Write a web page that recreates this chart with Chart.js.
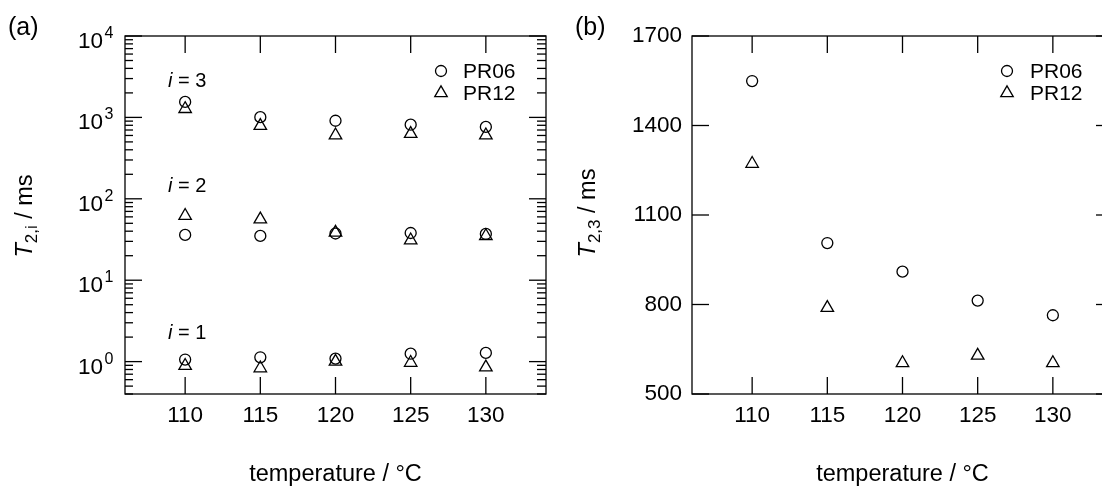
<!DOCTYPE html>
<html>
<head>
<meta charset="utf-8">
<script src="https://cdn.jsdelivr.net/npm/chart.js@4.4.1/dist/chart.umd.min.js"></script>
<style>
  html, body { margin: 0; padding: 0; background: #fff; overflow: hidden; }
  body { width: 1102px; height: 486px; position: relative; }
  canvas { position: absolute; top: 0; }
  #chartA { left: 0; }
  #chartB { left: 560px; }
</style>
</head>
<body>
<canvas id="chartA" width="560" height="486"></canvas>
<canvas id="chartB" width="570" height="486"></canvas>
<script>
// temperatures (°C)
const temps = [110, 115, 120, 125, 130];
const tempTicks = [110, 115, 120, 125, 130];

// T2,i in ms
const pr06_i1 = [1.06, 1.13, 1.09, 1.25, 1.28];
const pr12_i1 = [0.89, 0.83, 1.0, 0.97, 0.85];
const pr06_i2 = [36, 35, 37.5, 38, 37];
const pr12_i2 = [62, 56, 38.5, 31, 35];
const pr06_i3 = [1549, 1006, 910, 813, 764];
const pr12_i3 = [1272, 789, 604, 629, 604];

// axis ticks
const logMajor = [1, 10, 100, 1000, 10000];
const logExp = ['0', '1', '2', '3', '4'];
const linTicksB = [500, 800, 1100, 1400, 1700];

const FONT = "'Liberation Sans', Arial, Helvetica, sans-serif";
Chart.defaults.font.family = FONT;
Chart.defaults.color = '#000';

function pts(ys) {
    return temps.map((t, i) => ({ x: t, y: ys[i] }));
}

function circleSet(ys) {
    return { data: pts(ys), pointStyle: 'circle', pointRadius: 5.5, borderColor: '#000',
             backgroundColor: 'rgba(0,0,0,0)', borderWidth: 1.3, showLine: false };
}
function triSet(ys) {
    return { data: pts(ys), pointStyle: 'triangle', pointRadius: 7.2, borderColor: '#000',
             backgroundColor: 'rgba(0,0,0,0)', borderWidth: 1.3, showLine: false };
}

function line(ctx, x1, y1, x2, y2) {
    ctx.beginPath();
    ctx.moveTo(x1, y1);
    ctx.lineTo(x2, y2);
    ctx.stroke();
}

// frame + inward ticks on all four sides
function drawFrame(chart, yMajor, yMinor) {
    const { ctx, chartArea: a, scales: { x, y } } = chart;
    ctx.save();
    ctx.strokeStyle = '#000';
    ctx.lineWidth = 1.3;
    ctx.strokeRect(a.left, a.top, a.right - a.left, a.bottom - a.top);
    tempTicks.forEach(v => {
        const px = x.getPixelForValue(v);
        line(ctx, px, a.top, px, a.top + 17);
        line(ctx, px, a.bottom, px, a.bottom - 17);
    });
    yMajor.forEach(v => {
        const py = y.getPixelForValue(v);
        line(ctx, a.left, py, a.left + 17, py);
        line(ctx, a.right, py, a.right - 17, py);
    });
    yMinor.forEach(v => {
        const py = y.getPixelForValue(v);
        line(ctx, a.left, py, a.left + 8, py);
        line(ctx, a.right, py, a.right - 9, py);
    });
    ctx.restore();
}

// rotated "T_sub / ms" title
function drawYTitle(ctx, cx, cy, sub) {
    ctx.save();
    ctx.translate(cx, cy);
    ctx.rotate(-Math.PI / 2);
    ctx.fillStyle = '#000';
    ctx.textBaseline = 'alphabetic';
    ctx.textAlign = 'left';
    const fT = 'italic 23.5px ' + FONT, fS = '17px ' + FONT, fR = '23.5px ' + FONT;
    ctx.font = fT; const wT = ctx.measureText('T').width;
    ctx.font = fS; const wS = ctx.measureText(sub).width;
    ctx.font = fR; const wR = ctx.measureText(' / ms').width;
    let x0 = -(wT + wS + wR) / 2;
    ctx.font = fT; ctx.fillText('T', x0, 0); x0 += wT;
    ctx.font = fS; ctx.fillText(sub, x0, 5); x0 += wS;
    ctx.font = fR; ctx.fillText(' / ms', x0, 0);
    ctx.restore();
}

function drawLegend(ctx, mx, tx) {
    ctx.save();
    ctx.strokeStyle = '#000';
    ctx.lineWidth = 1.3;
    ctx.beginPath();
    ctx.arc(mx, 71, 5.5, 0, Math.PI * 2);
    ctx.stroke();
    const r = 7.2, cy = 93;
    ctx.beginPath();
    ctx.moveTo(mx, cy - r);
    ctx.lineTo(mx + r * Math.sin(2 * Math.PI / 3), cy + r / 2);
    ctx.lineTo(mx - r * Math.sin(2 * Math.PI / 3), cy + r / 2);
    ctx.closePath();
    ctx.stroke();
    ctx.fillStyle = '#000';
    ctx.font = '21px ' + FONT;
    ctx.textAlign = 'left';
    ctx.fillText('PR06', tx, 78);
    ctx.fillText('PR12', tx, 100);
    ctx.restore();
}

function panelLabel(ctx, text, x) {
    ctx.save();
    ctx.fillStyle = '#000';
    ctx.font = '25px ' + FONT;
    ctx.textAlign = 'left';
    ctx.fillText(text, x, 35);
    ctx.restore();
}

const minorA = [];
[0.1, 1, 10, 100, 1000].forEach(d => {
    for (let m = 2; m <= 9; m++) {
        const v = d * m;
        if (v >= 0.4) minorA.push(v);
    }
});

const decorA = {
    id: 'decorA',
    afterDraw(chart) {
        const { ctx, scales: { y } } = chart;
        drawFrame(chart, logMajor, minorA);
        // y tick labels 10^n
        ctx.save();
        ctx.fillStyle = '#000';
        logMajor.forEach((v, i) => {
            const py = y.getPixelForValue(v);
            ctx.font = '22.5px ' + FONT;
            ctx.textAlign = 'right';
            ctx.fillText('10', 103, py + 12);
            ctx.font = '16px ' + FONT;
            ctx.textAlign = 'left';
            ctx.fillText(logExp[i], 104.5, py + 2);
        });
        // i = n annotations
        [['3', 86.5], ['2', 191.5], ['1', 339]].forEach(([n, by]) => {
            ctx.font = 'italic 20px ' + FONT;
            ctx.fillText('i', 168, by);
            const wi = ctx.measureText('i').width;
            ctx.font = '20px ' + FONT;
            ctx.fillText(' = ' + n, 168 + wi, by);
        });
        ctx.restore();
        drawYTitle(ctx, 32, 216, '2,i');
        drawLegend(ctx, 441, 463);
        panelLabel(ctx, '(a)', 8);
    }
};

const decorB = {
    id: 'decorB',
    afterDraw(chart) {
        drawFrame(chart, linTicksB, []);
        drawYTitle(chart.ctx, 35, 213, '2,3');
        drawLegend(chart.ctx, 447, 470);
        panelLabel(chart.ctx, '(b)', 15);
    }
};

function xScale() {
    return {
        type: 'linear', min: 106, max: 134,
        afterBuildTicks: s => { s.ticks = tempTicks.map(v => ({ value: v })); },
        afterFit: s => { s.height = 92; },
        grid: { display: false, drawTicks: false },
        border: { display: false },
        ticks: { font: { size: 22.5 }, color: '#000', padding: 8, callback: v => String(v) },
        title: { display: true, text: 'temperature / °C', color: '#000',
                 font: { size: 23.5, lineHeight: 1 }, padding: 0 }
    };
}

new Chart(document.getElementById('chartA'), {
    type: 'scatter',
    data: {
        datasets: [
            circleSet(pr06_i3), triSet(pr12_i3),
            circleSet(pr06_i2), triSet(pr12_i2),
            circleSet(pr06_i1), triSet(pr12_i1)
        ]
    },
    options: {
        responsive: false,
        animation: false,
        layout: { padding: { top: 36, right: 14, left: 0, bottom: 0 } },
        plugins: { legend: { display: false }, tooltip: { enabled: false } },
        scales: {
            x: xScale(),
            y: {
                type: 'logarithmic', min: 0.4, max: 10000,
                afterFit: s => { s.width = 125; },
                grid: { display: false, drawTicks: false },
                border: { display: false },
                ticks: { display: false }
            }
        }
    },
    plugins: [decorA]
});

new Chart(document.getElementById('chartB'), {
    type: 'scatter',
    data: {
        datasets: [circleSet(pr06_i3), triSet(pr12_i3)]
    },
    options: {
        responsive: false,
        animation: false,
        layout: { padding: { top: 36, right: 17, left: 0, bottom: 0 } },
        plugins: { legend: { display: false }, tooltip: { enabled: false } },
        scales: {
            x: xScale(),
            y: {
                type: 'linear', min: 500, max: 1700,
                afterBuildTicks: s => { s.ticks = linTicksB.map(v => ({ value: v })); },
                afterFit: s => { s.width = 132; },
                grid: { display: false, drawTicks: false },
                border: { display: false },
                ticks: { font: { size: 22.5 }, color: '#000', padding: 10, callback: v => String(v) }
            }
        }
    },
    plugins: [decorB]
});
</script>
</body>
</html>
